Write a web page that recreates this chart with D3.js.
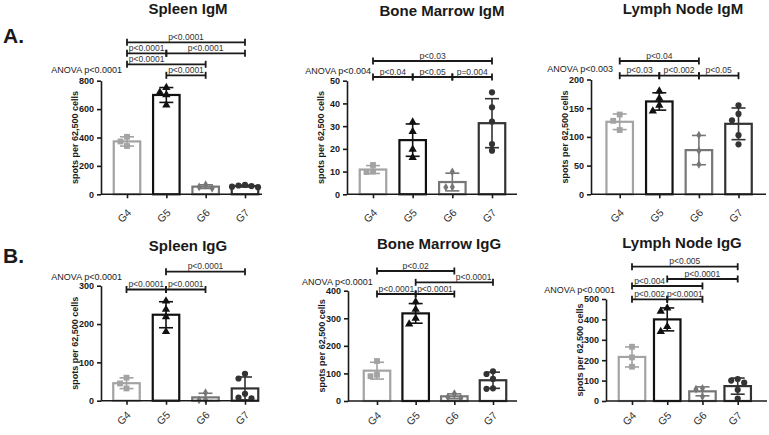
<!DOCTYPE html>
<html>
<head>
<meta charset="utf-8">
<script src="https://cdn.jsdelivr.net/npm/d3@7"></script>
<style>
  body { margin: 0; background: #fff; }
  text { font-family: "Liberation Sans", Arial, sans-serif; }
</style>
</head>
<body>
<svg id="chart" width="769" height="435"></svg>
<script>
// groups on the x axis
var groups = ["G4", "G5", "G6", "G7"];

// individual animals per group (spots per 62,500 cells)
var spleenIgM = [[405, 372, 340], [752, 718, 700, 628], [68, 52, 42], [66, 62, 58, 54, 50]];
var boneMarrowIgM = [[12.9, 10, 9.8], [31.8, 27.6, 19.8, 16.2], [9.9, 3.2, 3.1], [44.9, 38.3, 32, 22.1, 19.2]];
var lymphNodeIgM = [[139, 128, 112], [180, 167, 155, 145], [103, 76, 52], [155, 140, 129, 103, 87]];
var spleenIgG = [[60, 45, 32], [260, 238, 219, 180], [21, 3, 2], [70, 58, 18, 8, 6]];
var boneMarrowIgG = [[145, 95, 90], [360, 332, 300, 279], [27, 14, 10], [108, 98, 80, 46, 44]];
var lymphNodeIgG = [[266, 214, 168], [455, 440, 365, 340], [62, 58, 22], [108, 100, 90, 55, 12]];

var titles = ["Spleen IgM", "Bone Marrow IgM", "Lymph Node IgM", "Spleen IgG", "Bone Marrow IgG", "Lymph Node IgG"];
var anovaLabels = ["ANOVA p<0.0001", "ANOVA p<0.004", "ANOVA p<0.003", "ANOVA p<0.0001", "ANOVA p<0.0001", "ANOVA p<0.0001"];
var yMax = [800, 50, 200, 300, 400, 500];
var yStep = [200, 10, 50, 100, 100, 100];

// pairwise comparisons: [from, to, label, bracket row, (label over from), (label over to)]
var spleenIgMStats = [["G5", "G6", "p<0.0001", 0], ["G4", "G6", "p<0.0001", 1, "G4", "G5"], ["G4", "G5", "p<0.0001", 2], ["G5", "G7", "p<0.0001", 2], ["G4", "G7", "p<0.0001", 3]];
var boneMarrowIgMStats = [["G4", "G5", "p<0.04", 0], ["G5", "G6", "p<0.05", 0], ["G6", "G7", "p=0.004", 0], ["G4", "G7", "p<0.03", 1]];
var lymphNodeIgMStats = [["G4", "G5", "p<0.03", 0], ["G5", "G6", "p<0.002", 0], ["G6", "G7", "p<0.05", 0], ["G4", "G6", "p<0.04", 1]];
var spleenIgGStats = [["G4", "G5", "p<0.0001", 0], ["G5", "G6", "p<0.0001", 0], ["G5", "G7", "p<0.0001", 1]];
var boneMarrowIgGStats = [["G4", "G5", "p<0.0001", 0], ["G5", "G6", "p<0.0001", 0], ["G5", "G7", "p<0.0001", 1, "G6", "G7"], ["G4", "G6", "p<0.02", 2]];
var lymphNodeIgGStats = [["G4", "G5", "p<0.002", 0], ["G5", "G6", "p<0.0001", 0], ["G4", "G6", "p<0.004", 1, "G4", "G5"], ["G5", "G7", "p<0.0001", 2], ["G4", "G7", "p<0.005", 3]];

var panels = [spleenIgM, boneMarrowIgM, lymphNodeIgM, spleenIgG, boneMarrowIgG, lymphNodeIgG];
var stats = [spleenIgMStats, boneMarrowIgMStats, lymphNodeIgMStats, spleenIgGStats, boneMarrowIgGStats, lymphNodeIgGStats];

// where each panel sits on the page
var layout = [
  {axisX: 101, y0: 194.3, yTop: 80.7, x0: 127, x3: 245, xEnd: 262, titleX: 188, titleY: 14, anovaX: 122, anovaY: 73.3, labelDy: 19, rows: [75.3, 64.3, 53.3, 42.3]},
  {axisX: 347, y0: 194.3, yTop: 80.7, x0: 373, x3: 492, xEnd: 517, titleX: 442, titleY: 15.5, anovaX: 371, anovaY: 74, labelDy: 19, rows: [77, 61]},
  {axisX: 591, y0: 194.3, yTop: 79.5, x0: 619.7, x3: 738.5, xEnd: 766, titleX: 683, titleY: 14, anovaX: 613, anovaY: 71.7, labelDy: 19, rows: [75.7, 61]},
  {axisX: 101, y0: 400.7, yTop: 285.7, x0: 126.5, x3: 245, xEnd: 259, titleX: 188, titleY: 251, anovaX: 122, anovaY: 279.5, labelDy: 15, rows: [289.5, 271.7]},
  {axisX: 348, y0: 401, yTop: 290.7, x0: 377, x3: 493, xEnd: 517, titleX: 439, titleY: 249, anovaX: 372.7, anovaY: 285, labelDy: 15, rows: [294, 282.3, 271]},
  {axisX: 606, y0: 401, yTop: 299, x0: 632, x3: 737.7, xEnd: 767, titleX: 682, titleY: 248, anovaX: 615, anovaY: 293.3, labelDy: 15, rows: [299.3, 286, 279, 266.7]}
];

var colors = ["#a3a3a3", "#111111", "#767676", "#333333"];
var symbols = [d3.symbolSquare, d3.symbolTriangle, d3.symbolDiamond, d3.symbolCircle];
var symbolSizes = [34, 30, 22, 30];
var ink = "#1a1a1a";
var barWidth = 26.5;

var svg = d3.select("#chart");

svg.append("text").attr("x", 3).attr("y", 43).attr("font-size", 21).attr("font-weight", "bold").attr("fill", ink).text("A.");
svg.append("text").attr("x", 3).attr("y", 263).attr("font-size", 21).attr("font-weight", "bold").attr("fill", ink).text("B.");

// spread points sideways when they would overlap (like a scatter dot plot)
function swarm(vals, y, cx, step) {
  var placed = [];
  return vals.map(function(v) {
    var py = y(v), off = 0;
    var tries = [0, -1, 1, -2, 2, -3, 3];
    for (var t = 0; t < tries.length; t++) {
      off = tries[t] * step;
      var ok = placed.every(function(p) { return Math.hypot(p[0] - off, p[1] - py) >= step; });
      if (ok) break;
    }
    placed.push([off, py]);
    return [cx + off, py];
  });
}

panels.forEach(function(data, i) {
  var L = layout[i];
  var g = svg.append("g");

  var y = d3.scaleLinear().domain([0, yMax[i]]).range([L.y0, L.yTop]);
  var x = d3.scalePoint().domain(groups).range([L.x0, L.x3]);

  // title
  g.append("text")
    .attr("x", L.titleX).attr("y", L.titleY)
    .attr("text-anchor", "middle")
    .attr("font-size", 15).attr("font-weight", "bold")
    .attr("fill", ink)
    .text(titles[i]);

  // bars
  var summary = data.map(function(vals, k) {
    return {group: groups[k], mean: d3.mean(vals), sd: d3.deviation(vals), vals: vals, k: k};
  });

  g.selectAll(".bar")
    .data(summary)
    .enter()
    .append("rect")
      .attr("x", function(d) { return x(d.group) - barWidth / 2; })
      .attr("y", function(d) { return y(d.mean); })
      .attr("width", barWidth)
      .attr("height", function(d) { return L.y0 - y(d.mean); })
      .attr("fill", "#fff")
      .attr("stroke", function(d) { return colors[d.k]; })
      .attr("stroke-width", 2.2);

  // error bars (mean +/- SD)
  summary.forEach(function(d) {
    var cx = x(d.group);
    var lo = y(Math.max(0, d.mean - d.sd)), hi = y(d.mean + d.sd);
    var eb = g.append("g").attr("stroke", colors[d.k]).attr("stroke-width", 1.6);
    eb.append("line").attr("x1", cx).attr("x2", cx).attr("y1", lo).attr("y2", hi);
    eb.append("line").attr("x1", cx - 7).attr("x2", cx + 7).attr("y1", hi).attr("y2", hi);
    eb.append("line").attr("x1", cx - 7).attr("x2", cx + 7).attr("y1", lo).attr("y2", lo);

    // individual points
    var pts = swarm(d.vals, y, cx, 6.5);
    g.selectAll(".pt" + d.k)
      .data(pts)
      .enter()
      .append("path")
        .attr("d", d3.symbol().type(symbols[d.k]).size(symbolSizes[d.k]))
        .attr("transform", function(p) { return "translate(" + p[0] + "," + p[1] + ")"; })
        .attr("fill", colors[d.k]);
  });

  // y axis
  var yAxis = g.append("g")
    .attr("transform", "translate(" + L.axisX + ",0)")
    .call(d3.axisLeft(y).tickValues(d3.range(0, yMax[i] + 1, yStep[i])).tickSize(4).tickSizeOuter(0));
  yAxis.selectAll("path, line").attr("stroke", ink).attr("stroke-width", 1.6);
  yAxis.selectAll("text")
    .attr("font-size", 9).attr("font-weight", "bold")
    .attr("font-family", "Liberation Sans, Arial, sans-serif")
    .attr("fill", ink);

  g.append("text")
    .attr("transform", "translate(" + (L.axisX - 23) + "," + ((L.y0 + L.yTop) / 2) + ") rotate(-90)")
    .attr("text-anchor", "middle")
    .attr("font-size", 9).attr("font-weight", "bold")
    .attr("fill", ink)
    .text("spots per 62,500 cells");

  // x axis
  var xAxis = g.append("g")
    .attr("transform", "translate(0," + L.y0 + ")")
    .call(d3.axisBottom(x).tickSize(4).tickSizeOuter(0));
  xAxis.select(".domain").attr("d", "M" + L.axisX + ",0H" + L.xEnd);
  xAxis.selectAll("path, line").attr("stroke", ink).attr("stroke-width", 1.6);
  xAxis.selectAll("text")
    .attr("x", null).attr("y", null).attr("dy", null)
    .attr("text-anchor", "end")
    .attr("transform", "translate(4.5," + L.labelDy + ") rotate(-45)")
    .attr("font-size", 10.5)
    .attr("font-family", "Liberation Sans, Arial, sans-serif")
    .attr("fill", "#333");

  // ANOVA label
  g.append("text")
    .attr("x", L.anovaX).attr("y", L.anovaY)
    .attr("text-anchor", "end")
    .attr("font-size", 9)
    .attr("fill", ink)
    .text(anovaLabels[i]);

  // comparison brackets
  stats[i].forEach(function(s) {
    var x1 = x(s[0]), x2 = x(s[1]), yy = L.rows[s[3]];
    var lx = s[4] ? (x(s[4]) + x(s[5])) / 2 : (x1 + x2) / 2;
    var b = g.append("g").attr("stroke", ink).attr("stroke-width", 1.8);
    b.append("line").attr("x1", x1).attr("x2", x2).attr("y1", yy).attr("y2", yy);
    b.append("line").attr("x1", x1).attr("x2", x1).attr("y1", yy - 3.5).attr("y2", yy + 3.5);
    b.append("line").attr("x1", x2).attr("x2", x2).attr("y1", yy - 3.5).attr("y2", yy + 3.5);
    g.append("text")
      .attr("x", lx).attr("y", yy - 2.5)
      .attr("text-anchor", "middle")
      .attr("font-size", 8.5)
      .attr("fill", "#333")
      .text(s[2]);
  });
});
</script>
</body>
</html>
